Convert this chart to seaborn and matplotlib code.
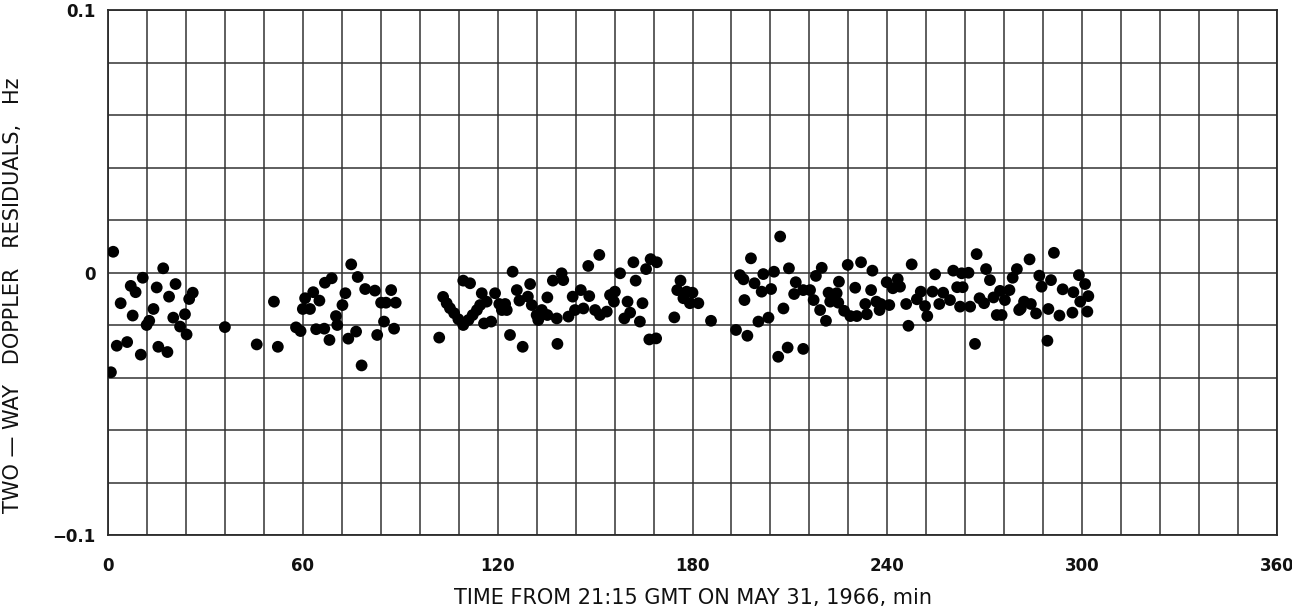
import numpy as np
import pandas as pd
import matplotlib
matplotlib.use("Agg")
import matplotlib.pyplot as plt
import seaborn as sns

# Two-way Doppler residuals (Hz) versus time from 21:15 GMT, 31 May 1966 (min)
time_min = [
    0.9, 1.6, 2.7, 3.9, 5.9, 7.0, 7.6, 8.5, 10.1, 10.7, 11.9, 12.7, 14.0, 15.0, 15.5,
    17.0, 18.3, 18.8, 20.1, 20.8, 22.2, 23.7, 24.2, 25.0, 26.1,
    36.0, 45.8, 51.1, 52.3,
    57.9, 59.3, 60.0, 60.7, 62.2, 63.2, 64.1, 65.1, 66.6, 66.8, 68.2, 68.9, 70.2, 70.6,
    72.2, 73.1, 74.0, 74.9, 76.4, 76.9, 78.1, 79.2, 82.2, 82.9, 84.1, 85.0, 85.6, 87.2,
    88.1, 88.6,
    102.0, 103.2, 104.3, 105.3, 106.6, 107.9, 109.4, 109.4, 111.0, 111.5, 112.3, 113.6,
    114.6, 115.1, 115.8, 116.6, 118.0, 119.2, 120.5, 121.3, 122.3, 122.8, 123.8, 124.6,
    125.9, 126.7, 127.7, 129.3, 130.0, 130.5, 132.0, 132.5, 133.6, 135.3, 135.3, 137.0,
    138.2, 138.4, 139.7, 140.2, 141.8, 143.1, 143.8, 145.6, 146.4, 147.9, 148.2, 150.0,
    151.3, 151.5, 153.6, 154.6, 155.8, 156.1, 157.7, 159.0, 160.0, 160.8, 161.8, 162.5,
    163.8, 164.6, 165.7, 166.7, 167.1, 168.8, 169.0,
    174.4, 175.3, 176.3, 177.2, 178.2, 179.2, 180.0, 181.8, 185.7,
    193.4, 194.6, 195.7, 196.0, 196.9, 198.0, 199.1, 200.3, 201.3, 201.8, 203.4, 204.2,
    205.1, 206.4, 207.0, 208.0, 209.3, 209.7, 211.3, 211.8, 214.1, 214.1, 216.2, 217.3,
    218.0, 219.3, 219.8, 221.1, 221.9, 222.4, 224.4, 224.9, 225.1,
    226.7, 227.8, 228.6, 230.1, 230.6, 231.9, 233.2, 233.7, 235.0, 235.4, 236.6, 237.6,
    238.0, 239.8, 240.6, 241.7, 243.2, 243.9, 245.8, 246.5, 247.5, 249.1, 250.3, 251.6,
    252.3, 253.9, 254.7, 256.0, 257.2, 259.3, 260.3, 261.5, 262.4, 262.9, 263.2, 265.0,
    265.5, 267.0, 267.5, 268.4, 269.8, 270.4, 271.6, 272.7, 273.7, 274.7, 275.2, 276.2,
    277.6, 278.6, 279.9, 280.6, 281.1, 282.1, 283.8, 284.2, 285.8, 286.8, 287.5, 289.3,
    289.6, 290.4, 291.3, 293.0, 294.0, 297.0, 297.3, 299.0, 299.4, 300.9, 301.6, 301.9,
]
residual_hz = [
    -0.038, 0.0079, -0.0279, -0.0117, -0.0265, -0.0051, -0.0164, -0.0075, -0.0313, -0.002,
    -0.020, -0.0184, -0.0139, -0.0057, -0.0283, 0.0016, -0.0303, -0.0092, -0.0172, -0.0044,
    -0.0206, -0.0159, -0.0236, -0.0101, -0.0077,
    -0.0208, -0.0274, -0.0111, -0.0283,
    -0.0209, -0.0223, -0.0139, -0.0098, -0.0139, -0.0075, -0.0216, -0.0107, -0.0214, -0.0039,
    -0.0257, -0.0022, -0.0166, -0.020, -0.0124, -0.0079, -0.0252, 0.0031, -0.0225, -0.0017,
    -0.0354, -0.0063, -0.0069, -0.0238, -0.0115, -0.0187, -0.0115, -0.0067, -0.0214, -0.0115,
    -0.0248, -0.0093, -0.0117, -0.0136, -0.0155, -0.0178, -0.020, -0.0031, -0.0181, -0.0041,
    -0.0162, -0.0143, -0.0124, -0.0079, -0.0194, -0.0111, -0.0187, -0.0079, -0.012, -0.0143,
    -0.012, -0.0143, -0.0238, 0.0003, -0.0067, -0.0107, -0.0283, -0.0092, -0.0044, -0.0124,
    -0.0162, -0.0181, -0.0143, -0.0095, -0.0162, -0.0031, -0.0175, -0.0272, -0.0003, -0.0029,
    -0.0168, -0.0092, -0.0143, -0.0067, -0.0137, 0.0025, -0.0090, -0.0143, 0.0067, -0.0162,
    -0.0149, -0.0086, -0.0111, -0.0073, -0.0003, -0.0175, -0.0111, -0.0153, 0.0039, -0.0031,
    -0.0187, -0.0117, 0.0013, -0.0255, 0.0051, -0.0251, 0.0039,
    -0.0171, -0.0067, -0.0031, -0.0098, -0.0073, -0.0117, -0.0077, -0.0117, -0.0184,
    -0.0219, -0.001, -0.0026, -0.0105, -0.0241, 0.0054, -0.0041, -0.0187, -0.0073, -0.0006,
    -0.0172, -0.0063, 0.0003, -0.0321, 0.0137, -0.0137, -0.0286, 0.0016, -0.0082, -0.0037,
    -0.0291, -0.0067, -0.0067, -0.0105, -0.0013, -0.0143, 0.0018, -0.0184, -0.0077, -0.0111,
    -0.0079, -0.0115, -0.0035,
    -0.0146, 0.0029, -0.0166, -0.0058, -0.0166, 0.0039, -0.012, -0.0159, -0.0067, 0.0007,
    -0.0111, -0.0143, -0.012, -0.0037, -0.0124, -0.006, -0.0025, -0.0054, -0.012, -0.0203,
    0.0031, -0.0102, -0.0073, -0.0128, -0.0166, -0.0073, -0.0007, -0.012, -0.0077, -0.0105,
    0.0007, -0.0056, -0.013, -0.0003, -0.0056, -0.0001, -0.013, -0.0272, 0.007, -0.0098,
    -0.0117, 0.0013, -0.0029, -0.0095, -0.0162, -0.007, -0.0162, -0.0105, -0.0067, -0.002,
    0.0013, -0.0143, -0.0137, -0.0111, 0.005, -0.012, -0.0156, -0.0012, -0.0054, -0.026,
    -0.0139, -0.0029, 0.0075, -0.0164, -0.0064, -0.0153, -0.0075, -0.001, -0.0111, -0.0044,
    -0.0149, -0.009,
]

x_ticks = [0, 60, 120, 180, 240, 300, 360]
x_tick_labels = ["0", "60", "120", "180", "240", "300", "360"]
y_ticks = [-0.1, 0.0, 0.1]
y_tick_labels = ["\u22120.1", "0", "0.1"]

sns.set_theme(style="white")
plt.rcParams["font.family"] = ["DejaVu Sans"]

df = pd.DataFrame({"t": time_min, "r": residual_hz})

fig = plt.figure(figsize=(12.92, 6.12), dpi=100)
ax = fig.add_axes([108 / 1292, 1 - 535 / 612, 1169 / 1292, 525 / 612])

sns.scatterplot(data=df, x="t", y="r", ax=ax, color="black", s=72,
                edgecolor="none", linewidth=0, zorder=3, legend=False)

ax.set_xlim(0, 360)
ax.set_ylim(-0.1, 0.1)

# Grid every 12 min and every 0.02 Hz
ax.set_xticks(x_ticks)
ax.set_xticklabels(x_tick_labels)
ax.set_xticks(np.arange(0, 361, 12), minor=True)
ax.set_yticks(y_ticks)
ax.set_yticklabels(y_tick_labels)
ax.set_yticks(np.round(np.arange(-0.1, 0.1001, 0.02), 3), minor=True)
ax.grid(True, which="both", color="#333333", linewidth=1.1)
ax.set_axisbelow(True)

ax.tick_params(axis="both", which="both", length=0)
ax.tick_params(axis="x", pad=16, labelsize=12)
ax.tick_params(axis="y", pad=9, labelsize=12)
for lab in ax.get_xticklabels() + ax.get_yticklabels():
    lab.set_fontweight("bold")
    lab.set_color("#111111")

for sp in ax.spines.values():
    sp.set_visible(True)
    sp.set_color("#2a2a2a")
    sp.set_linewidth(1.3)

ax.set_xlabel("TIME FROM 21:15 GMT ON MAY 31, 1966, min", fontsize=15,
              color="#111111", labelpad=9)
ax.set_ylabel("TWO \u2014 WAY   DOPPLER   RESIDUALS,   Hz", fontsize=15,
              color="#111111")
ax.yaxis.set_label_coords(-0.073, 0.457)

fig.savefig("out.png", dpi=100, facecolor="white")
